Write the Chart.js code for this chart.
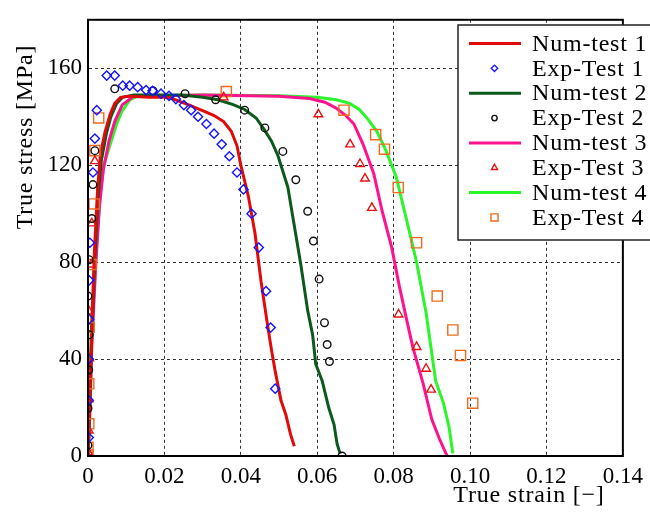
<!DOCTYPE html>
<html>
<head>
<meta charset="utf-8">
<title>True stress vs true strain</title>
<script src="https://cdn.jsdelivr.net/npm/chart.js@4/dist/chart.umd.min.js"></script>
<style>
  html, body { margin: 0; padding: 0; background: #fff; }
  #wrap { width: 650px; height: 512px; position: relative; }
</style>
</head>
<body>
<div id="wrap"><canvas id="myChart" width="650" height="512"></canvas></div>
<script>
// ---- data ----
var seriesLabels = ['Num-test 1', 'Exp-Test 1', 'Num-test 2', 'Exp-Test 2',
                    'Num-test 3', 'Exp-Test 3', 'Num-test 4', 'Exp-Test 4'];
var xTicks = [0, 0.02, 0.04, 0.06, 0.08, 0.10, 0.12, 0.14];
var yTicks = [0, 40, 80, 120, 160];

var num1Strain = [0, 0.0005, 0.001, 0.0017, 0.0025, 0.0033, 0.0045, 0.0058, 0.007, 0.0085, 0.011, 0.016, 0.02, 0.022, 0.0245, 0.027, 0.030, 0.033, 0.0355, 0.0375, 0.039, 0.040, 0.042, 0.0437, 0.0453, 0.047, 0.048, 0.049, 0.0505, 0.0518, 0.053, 0.054];
var num1Stress = [0, 25, 55, 85, 110, 125, 134, 141, 145.5, 148, 148.5, 148, 148, 147.5, 146, 144.5, 142.5, 140.5, 138, 134, 128, 120, 107, 92, 72, 54, 44, 35, 23, 17, 9, 4];

var exp1Strain = [0.0002, 0.0002, 0.0002, 0.0003, 0.0003, 0.0005, 0.0013, 0.0018, 0.0023, 0.0049, 0.007, 0.0091, 0.0109, 0.013, 0.0152, 0.0169, 0.0191, 0.0212, 0.023, 0.0251, 0.027, 0.0288, 0.031, 0.033, 0.035, 0.037, 0.039, 0.0407, 0.0428, 0.0447, 0.0466, 0.0478, 0.049];
var exp1Stress = [7.6, 23, 40, 56.4, 72.5, 88, 117, 131, 142.7, 157, 157, 152.8, 152.8, 152.2, 151, 150.7, 149.5, 148.6, 147.3, 144.8, 142.7, 140, 137, 133, 128.6, 123.7, 117, 110, 100, 86, 68, 53, 27.8];

var num2Strain = [0, 0.0005, 0.001, 0.0018, 0.0027, 0.0035, 0.0048, 0.006, 0.0075, 0.009, 0.012, 0.0246, 0.03, 0.034, 0.038, 0.041, 0.044, 0.046, 0.048, 0.0497, 0.0523, 0.054, 0.0557, 0.0575, 0.0588, 0.0596, 0.0613, 0.063, 0.0644, 0.0652, 0.066];
var num2Stress = [0, 22, 50, 82, 108, 122, 133, 140, 145.5, 148, 149, 149, 148, 147, 145, 143, 139.5, 135, 130, 124, 111, 95, 79, 60, 50, 38, 31, 20, 13, 5, 1];

var exp2Strain = [0, 0, 0.0002, 0.0003, 0, 0.0003, 0.001, 0.0013, 0.0018, 0.007, 0.017, 0.0254, 0.0334, 0.041, 0.0463, 0.051, 0.0544, 0.0575, 0.059, 0.0605, 0.0619, 0.0626, 0.0632, 0.0665];
var exp2Stress = [4.4, 19.7, 35.5, 50, 66, 81, 98, 112, 126, 151.5, 150.7, 149.5, 147, 142.7, 135.4, 125.7, 114, 101, 88.7, 73, 55, 46, 39, 0];

var num3Strain = [0, 0.0005, 0.001, 0.002, 0.003, 0.004, 0.0055, 0.007, 0.009, 0.012, 0.03, 0.05, 0.058, 0.062, 0.065, 0.0675, 0.0696, 0.072, 0.0748, 0.077, 0.0795, 0.0815, 0.0833, 0.085, 0.0877, 0.090, 0.092, 0.094];
var num3Stress = [0, 18, 45, 78, 103, 118, 130, 138, 145, 148.5, 149, 148.5, 147.5, 146, 143.5, 140.5, 137, 128.6, 116.5, 101, 86, 70, 57, 45, 30, 15, 7, 0];

var exp3Strain = [0, 0.0002, 0.0002, 0.0003, 0.0003, 0.0008, 0.001, 0.0018, 0.0355, 0.0603, 0.0686, 0.0712, 0.0725, 0.0743, 0.0813, 0.086, 0.0885, 0.0898];
var exp3Stress = [1.6, 10.5, 23.4, 40.3, 59.6, 79, 96, 121.7, 148, 141, 128.6, 120.5, 114.5, 102.4, 58.4, 45, 36, 27.4];

var num4Strain = [0, 0.0004, 0.0008, 0.0016, 0.0023, 0.0031, 0.0041, 0.0057, 0.0075, 0.0088, 0.011, 0.013, 0.03, 0.05, 0.06, 0.065, 0.0685, 0.071, 0.073, 0.0756, 0.078, 0.0807, 0.0833, 0.086, 0.0885, 0.091, 0.093, 0.0945, 0.0955];
var num4Stress = [0, 15, 50, 68, 88, 106, 120, 128, 137, 142, 147, 148.5, 149, 148.7, 148, 147, 145.5, 143, 139.5, 134, 126, 115, 98, 80, 59, 31, 22, 12, 1];

var exp4Strain = [0, 0, 0.0002, 0.0002, 0.0003, 0.0008, 0.0016, 0.0018, 0.0028, 0.0362, 0.067, 0.0753, 0.0776, 0.0812, 0.086, 0.0914, 0.0955, 0.0975, 0.1007];
var exp4Stress = [0.4, 3.6, 13.3, 29.8, 53, 79, 104, 126, 139.5, 150.4, 142.7, 132.6, 126.6, 110.8, 88, 66, 52, 41.5, 21.8];

function pts(xs, ys) {
  return xs.map(function (x, i) { return { x: x, y: ys[i] }; });
}

var FONT = '"Liberation Serif", "Times New Roman", serif';

function numLine(label, xs, ys, color) {
  return {
    label: label, data: pts(xs, ys), showLine: true,
    borderColor: color, backgroundColor: color, borderWidth: 3,
    pointRadius: 0, tension: 0, order: 1
  };
}
function expPoints(label, xs, ys, color, style, r) {
  return {
    label: label, data: pts(xs, ys), showLine: false,
    borderColor: color, backgroundColor: 'rgba(0,0,0,0)', borderWidth: 1.4,
    pointStyle: style, pointRadius: r, order: 0
  };
}

// legend box drawn inside the plot, like the original figure
var boxLegend = {
  id: 'boxLegend',
  afterDraw: function (chart) {
    var ctx = chart.ctx;
    ctx.save();
    ctx.fillStyle = '#fff';
    ctx.strokeStyle = '#222';
    ctx.lineWidth = 1.5;
    ctx.fillRect(458, 25, 200, 215);
    ctx.strokeRect(458, 25, 200, 215);
    ctx.font = '24px ' + FONT;
    ctx.letterSpacing = '0.8px';
    ctx.textBaseline = 'middle';
    ctx.fillStyle = '#000';
    chart.data.datasets.forEach(function (ds, i) {
      var y = 43.5 + i * 24.85;
      if (ds.showLine) {
        ctx.strokeStyle = ds.borderColor;
        ctx.lineWidth = 3;
        ctx.beginPath();
        ctx.moveTo(469, y);
        ctx.lineTo(521, y);
        ctx.stroke();
      } else {
        ctx.strokeStyle = ds.borderColor;
        ctx.fillStyle = 'rgba(0,0,0,0)';
        ctx.lineWidth = 1.4;
        Chart.helpers.drawPoint(ctx, { pointStyle: ds.pointStyle, radius: ds.pointRadius * 0.7, rotation: 0, borderWidth: 1.4 }, 494.5, y);
      }
      ctx.fillStyle = '#000';
      ctx.fillText(ds.label, 532, y + 1);
    });
    ctx.restore();
  }
};

// frame on top/right and axis titles
var frameAndTitles = {
  id: 'frameAndTitles',
  afterDatasetsDraw: function (chart) {
    var a = chart.chartArea, ctx = chart.ctx;
    ctx.save();
    ctx.strokeStyle = '#000';
    ctx.lineWidth = 2;
    ctx.strokeRect(a.left, a.top, a.right - a.left, a.bottom - a.top);
    ctx.restore();
  },
  afterDraw: function (chart) {
    var ctx = chart.ctx;
    ctx.save();
    ctx.fillStyle = '#000';
    ctx.font = '24px ' + FONT;
    ctx.letterSpacing = '0.8px';
    ctx.textAlign = 'center';
    ctx.textBaseline = 'middle';
    ctx.fillText('True strain [\u2212]', 529, 496);
    ctx.translate(26, 137);
    ctx.rotate(-Math.PI / 2);
    ctx.fillText('True stress [MPa]', 0, 0);
    ctx.restore();
  }
};

var ctx = document.getElementById('myChart').getContext('2d');
var myChart = new Chart(ctx, {
  type: 'scatter',
  data: {
    datasets: [
      numLine(seriesLabels[0], num1Strain, num1Stress, '#e00a0a'),
      expPoints(seriesLabels[1], exp1Strain, exp1Stress, '#1414ff', 'rectRot', 4.6),
      numLine(seriesLabels[2], num2Strain, num2Stress, '#0b5a1b'),
      expPoints(seriesLabels[3], exp2Strain, exp2Stress, '#111111', 'circle', 3.8),
      numLine(seriesLabels[4], num3Strain, num3Stress, '#ff128e'),
      expPoints(seriesLabels[5], exp3Strain, exp3Stress, '#e81212', 'triangle', 5),
      numLine(seriesLabels[6], num4Strain, num4Stress, '#2cf52c'),
      expPoints(seriesLabels[7], exp4Strain, exp4Stress, '#f06a1e', 'rect', 7.2)
    ]
  },
  options: {
    responsive: false,
    animation: false,
    layout: { padding: { top: 9, right: 21, left: 0, bottom: 0 } },
    plugins: {
      legend: { display: false },
      tooltip: { enabled: false }
    },
    scales: {
      x: {
        type: 'linear', min: 0, max: 0.14,
        afterFit: function (scale) { scale.height = 56; },
        afterBuildTicks: function (scale) { scale.ticks = xTicks.map(function (v) { return { value: v }; }); },
        ticks: {
          padding: 7, color: '#000', font: { family: FONT, size: 23 },
          callback: function (v) { return v === 0 ? '0' : v.toFixed(2); }
        },
        grid: { color: '#333', lineWidth: 1, drawTicks: false },
        border: { display: true, color: '#000', width: 2, dash: [3, 3] }
      },
      y: {
        type: 'linear', min: 0, max: 180,
        afterFit: function (scale) { scale.width = 88; },
        afterBuildTicks: function (scale) { scale.ticks = yTicks.map(function (v) { return { value: v }; }); },
        ticks: {
          padding: 6, color: '#000', font: { family: FONT, size: 23 }
        },
        grid: { color: '#333', lineWidth: 1, drawTicks: false },
        border: { display: true, color: '#000', width: 2, dash: [3, 3] }
      }
    }
  },
  plugins: [frameAndTitles, boxLegend]
});
</script>
</body>
</html>
